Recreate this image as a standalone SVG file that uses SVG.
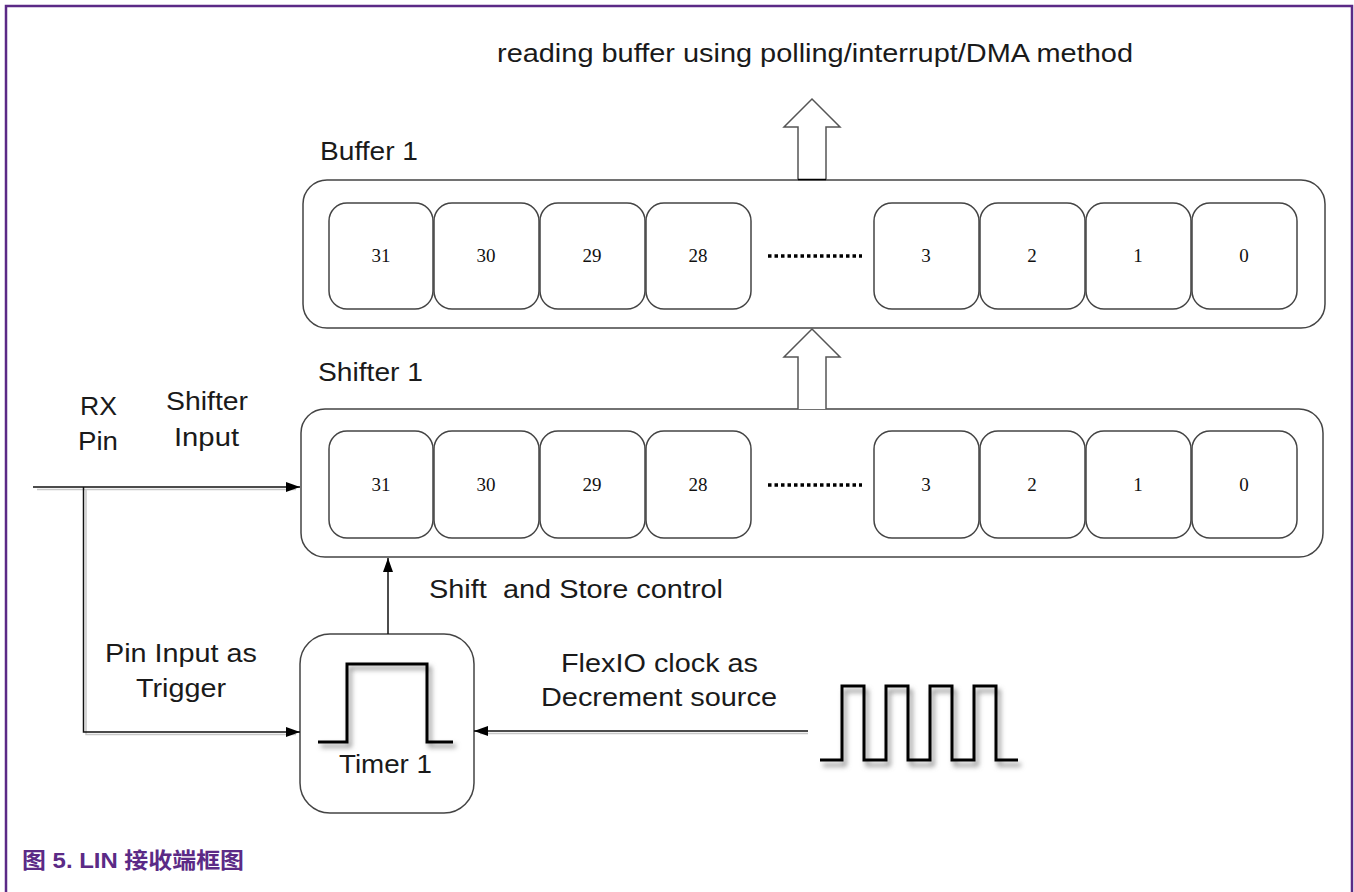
<svg xmlns="http://www.w3.org/2000/svg" width="1354" height="892" viewBox="0 0 1354 892">
<style>
.lbl{font-family:"Liberation Sans",Arial,sans-serif;font-size:26px;fill:#1a1a1a}
.num{font-family:"Liberation Serif","Times New Roman",serif;font-size:19px;fill:#111;text-anchor:middle}
.outer{fill:#fff;stroke:#444;stroke-width:1.5}
.cell{fill:#fff;stroke:#444;stroke-width:1.5}
.ln{fill:none;stroke:#111;stroke-width:1.5}
.sh{fill:none;stroke:#c8c8c8;stroke-width:1.5}
.hollow{fill:#fff;stroke:#555;stroke-width:1.5}
.wave{fill:none;stroke:#000;stroke-width:3}
.cap{font-family:"Liberation Sans","Noto Sans CJK SC",sans-serif;font-size:22px;font-weight:bold;fill:#5b2a86}
</style>
<defs>
<marker id="ah" viewBox="0 0 14 10" refX="14" refY="5" markerWidth="14" markerHeight="10" markerUnits="userSpaceOnUse" orient="auto">
<path d="M0,0 L14,5 L0,10 Z" fill="#000"/>
</marker>
<filter id="blur" x="-20%" y="-20%" width="140%" height="140%">
<feGaussianBlur stdDeviation="2.5"/>
</filter>
</defs>

<!-- frame -->
<g id="frame">
<path d="M6,892 L6,6 L1352,6 L1352,892" fill="none" stroke="#5b2a86" stroke-width="2.5"/>
</g>

<text class="lbl" x="497" y="62" textLength="636" lengthAdjust="spacingAndGlyphs">reading buffer using polling/interrupt/DMA method</text>

<!-- Buffer 1 -->
<g id="buffer1">
<text class="lbl" x="320" y="160" textLength="98" lengthAdjust="spacingAndGlyphs">Buffer 1</text>
<rect class="outer" x="303" y="180" width="1022" height="148" rx="24"/>
<rect class="cell" x="329" y="203" width="104" height="106" rx="18"/>
<rect class="cell" x="434" y="203" width="105" height="106" rx="18"/>
<rect class="cell" x="540" y="203" width="105" height="106" rx="18"/>
<rect class="cell" x="646" y="203" width="105" height="106" rx="18"/>
<rect class="cell" x="874" y="203" width="105" height="106" rx="18"/>
<rect class="cell" x="980" y="203" width="105" height="106" rx="18"/>
<rect class="cell" x="1086" y="203" width="105" height="106" rx="18"/>
<rect class="cell" x="1192" y="203" width="105" height="106" rx="18"/>
<text class="num" x="381" y="262">31</text>
<text class="num" x="486" y="262">30</text>
<text class="num" x="592" y="262">29</text>
<text class="num" x="698" y="262">28</text>
<text class="num" x="926" y="262">3</text>
<text class="num" x="1032" y="262">2</text>
<text class="num" x="1138" y="262">1</text>
<text class="num" x="1244" y="262">0</text>
<line x1="768" y1="256" x2="862" y2="256" stroke="#000" stroke-width="3.5" stroke-dasharray="3.5 3"/>
</g>

<!-- Shifter 1 -->
<g id="shifter1">
<text class="lbl" x="318" y="381" textLength="105" lengthAdjust="spacingAndGlyphs">Shifter 1</text>
<rect class="outer" x="301" y="409" width="1022" height="148" rx="24"/>
<rect class="cell" x="329" y="431" width="104" height="107" rx="18"/>
<rect class="cell" x="434" y="431" width="105" height="107" rx="18"/>
<rect class="cell" x="540" y="431" width="105" height="107" rx="18"/>
<rect class="cell" x="646" y="431" width="105" height="107" rx="18"/>
<rect class="cell" x="874" y="431" width="105" height="107" rx="18"/>
<rect class="cell" x="980" y="431" width="105" height="107" rx="18"/>
<rect class="cell" x="1086" y="431" width="105" height="107" rx="18"/>
<rect class="cell" x="1192" y="431" width="105" height="107" rx="18"/>
<text class="num" x="381" y="491">31</text>
<text class="num" x="486" y="491">30</text>
<text class="num" x="592" y="491">29</text>
<text class="num" x="698" y="491">28</text>
<text class="num" x="926" y="491">3</text>
<text class="num" x="1032" y="491">2</text>
<text class="num" x="1138" y="491">1</text>
<text class="num" x="1244" y="491">0</text>
<line x1="768" y1="485" x2="862" y2="485" stroke="#000" stroke-width="3.5" stroke-dasharray="3.5 3"/>
</g>

<!-- Timer 1 -->
<g id="timer1">
<rect class="outer" x="300" y="634" width="174" height="179" rx="30"/>
<path d="M318,742 L347,742 L347,664 L427,664 L427,742 L453,742" fill="none" stroke="#888" stroke-width="3" filter="url(#blur)" transform="translate(3,4)"/>
<path class="wave" d="M318,742 L347,742 L347,664 L427,664 L427,742 L453,742"/>
<text class="lbl" x="339" y="773" textLength="93" lengthAdjust="spacingAndGlyphs">Timer 1</text>
</g>

<!-- Clock source -->
<g id="clock">
<path d="M820,760 L842,760 L842,686 L864,686 L864,760 L886,760 L886,686 L908,686 L908,760 L930,760 L930,686 L952,686 L952,760 L974,760 L974,686 L996,686 L996,760 L1018,760" fill="none" stroke="#888" stroke-width="3" filter="url(#blur)" transform="translate(3,5)"/>
<path class="wave" d="M820,760 L842,760 L842,686 L864,686 L864,760 L886,760 L886,686 L908,686 L908,760 L930,760 L930,686 L952,686 L952,760 L974,760 L974,686 L996,686 L996,760 L1018,760"/>
</g>

<!-- labels -->
<g id="labels">
<text class="lbl" x="80" y="415" textLength="37" lengthAdjust="spacingAndGlyphs">RX</text>
<text class="lbl" x="78" y="450" textLength="40" lengthAdjust="spacingAndGlyphs">Pin</text>
<text class="lbl" x="166" y="410" textLength="82" lengthAdjust="spacingAndGlyphs">Shifter</text>
<text class="lbl" x="174" y="446" textLength="65" lengthAdjust="spacingAndGlyphs">Input</text>
<text class="lbl" x="105" y="662" textLength="152" lengthAdjust="spacingAndGlyphs">Pin Input as</text>
<text class="lbl" x="136" y="697" textLength="90" lengthAdjust="spacingAndGlyphs">Trigger</text>
<text class="lbl" x="429" y="598" xml:space="preserve" textLength="294" lengthAdjust="spacingAndGlyphs">Shift  and Store control</text>
<text class="lbl" x="561" y="672" textLength="197" lengthAdjust="spacingAndGlyphs">FlexIO clock as</text>
<text class="lbl" x="541" y="706" textLength="236" lengthAdjust="spacingAndGlyphs">Decrement source</text>
</g>

<!-- connectors -->
<g id="connectors">
<path class="sh" d="M37,489.5 L296,489.5"/>
<path class="sh" d="M86,490 L86,734.5 L296,734.5"/>
<path class="sh" d="M480,733.5 L808,733.5"/>
<line class="ln" x1="33" y1="487" x2="300" y2="487" marker-end="url(#ah)"/>
<path class="ln" d="M83.5,487 L83.5,732 L300,732" marker-end="url(#ah)"/>
<line class="ln" x1="808" y1="731" x2="474" y2="731" marker-end="url(#ah)"/>
<line class="ln" x1="388" y1="634" x2="388" y2="558" marker-end="url(#ah)"/>
<path class="hollow" d="M798,409 L798,357 L784,357 L812,329 L840,357 L826,357 L826,409"/>
<path class="hollow" d="M798,180 L798,127 L784,127 L812,99 L840,127 L826,127 L826,180"/>
<line x1="798" y1="179.5" x2="826" y2="179.5" stroke="#000" stroke-width="1.5"/>
</g>

<text class="cap" x="22" y="868" textLength="222" lengthAdjust="spacingAndGlyphs">图 5. LIN 接收端框图</text>
</svg>
